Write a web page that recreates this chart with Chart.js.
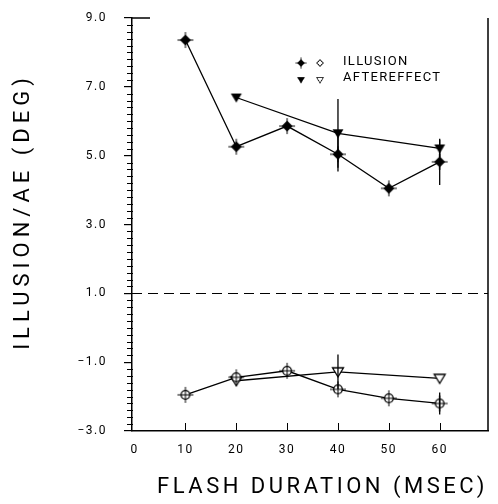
<!DOCTYPE html>
<html>
<head>
<meta charset="utf-8">
<script src="https://cdn.jsdelivr.net/npm/chart.js@4.4.0/dist/chart.umd.min.js"></script>
<style>
  html, body { margin: 0; padding: 0; background: #fff; }
  #wrap { width: 498px; height: 504px; }
</style>
</head>
<body>
<div id="wrap"><canvas id="myChart"></canvas></div>
<script>
// flash duration (msec)
var durations = [10, 20, 30, 40, 50, 60];

// upper group, filled symbols (deg)
var illusionFilled = [8.36, 5.26, 5.86, 5.04, 4.05, 4.82];
var illusionFilledErr = [0, 0, 0, 0.5, 0, 0.67];
var aftereffectFilled = [null, 6.69, null, 5.65, null, 5.21];
var aftereffectFilledErr = [0, 0, 0, 1.0, 0, 0.25];

// lower group, open symbols (deg)
var illusionOpen = [-1.95, -1.44, -1.25, -1.79, -2.05, -2.2];
var illusionOpenErr = [0, 0, 0, 0, 0, 0.32];
var aftereffectOpen = [null, -1.54, null, -1.28, null, -1.47];
var aftereffectOpenErr = [0, 0, 0, 0.5, 0, 0];

var xTicks = [0, 10, 20, 30, 40, 50, 60];
var yTicks = [-3, -1, 1, 3, 5, 7, 9];
var refLine = 1.0;
var legendLabels = ['ILLUSION', 'AFTEREFFECT'];

var FONT = "Roboto, 'DejaVu Sans', sans-serif";

// little canvases used as point symbols
function marker(kind) {
  var c = document.createElement('canvas');
  c.width = 20; c.height = 20;
  var g = c.getContext('2d');
  g.translate(10, 10);
  g.strokeStyle = '#000';
  g.fillStyle = '#000';
  g.lineWidth = 1.3;
  g.beginPath();
  if (kind == 'diamond' || kind == 'diamondOpen') {
    g.moveTo(0, -5.5); g.lineTo(5.5, 0); g.lineTo(0, 5.5); g.lineTo(-5.5, 0); g.closePath();
  } else if (kind == 'circleOpen') {
    g.arc(0, 0, 4.3, 0, Math.PI * 2);
  } else {
    g.moveTo(-5.5, -4); g.lineTo(5.5, -4); g.lineTo(0, 5); g.closePath();
  }
  if (kind == 'diamond' || kind == 'triangle') {
    g.fill();
  } else {
    g.fillStyle = '#fff';
    g.fill();
    g.stroke();
  }
  if (kind == 'diamond' || kind == 'circleOpen') {
    // small cross ticks
    g.beginPath();
    g.lineWidth = 1;
    g.moveTo(0, -8); g.lineTo(0, 8);
    g.moveTo(-8, 0); g.lineTo(8, 0);
    g.stroke();
  }
  return c;
}

var markers = {
  diamond: marker('diamond'),
  diamondOpen: marker('diamondOpen'),
  circleOpen: marker('circleOpen'),
  triangle: marker('triangle'),
  triangleOpen: marker('triangleOpen')
};

function series(label, values, errs, symbol) {
  return {
    label: label,
    data: values.map(function (v, i) { return { x: durations[i], y: v }; }),
    errors: errs,
    borderColor: '#000',
    borderWidth: 1.3,
    pointStyle: symbol,
    pointRadius: 6,
    pointHoverRadius: 6,
    spanGaps: true,
    tension: 0,
    fill: false
  };
}

// axis titles are letter-spaced in the original
function spacedTitle(scale, px, shift) {
  if (scale._spaced) return;
  scale._spaced = true;
  var draw = scale.drawTitle;
  scale.drawTitle = function () {
    var c = this.ctx;
    c.save();
    c.letterSpacing = px;
    c.translate(0, shift || 0);
    draw.apply(this, arguments);
    c.restore();
  };
}

var extras = {
  id: 'extras',
  beforeLayout: function (chart) { chart.ctx.letterSpacing = '1.5px'; },
  beforeDraw: function (chart) { chart.ctx.letterSpacing = '1.5px'; },
  beforeDatasetsDraw: function (chart) {
    var ctx = chart.ctx, a = chart.chartArea, y = chart.scales.y;
    var py = Math.round(y.getPixelForValue(refLine)) + 0.5;
    ctx.save();
    ctx.strokeStyle = '#000';
    ctx.lineWidth = 1;
    ctx.setLineDash([10, 6]);
    ctx.beginPath();
    ctx.moveTo(a.left, py);
    ctx.lineTo(a.right, py);
    ctx.stroke();
    ctx.restore();
  },
  afterDatasetsDraw: function (chart) {
    var ctx = chart.ctx, xs = chart.scales.x, ys = chart.scales.y;
    ctx.save();
    ctx.strokeStyle = '#000';
    ctx.lineWidth = 1.3;
    chart.data.datasets.forEach(function (ds) {
      ds.data.forEach(function (p, i) {
        var e = ds.errors[i];
        if (p.y == null || !e) return;
        var px = xs.getPixelForValue(p.x);
        ctx.beginPath();
        ctx.moveTo(px, ys.getPixelForValue(p.y + e));
        ctx.lineTo(px, ys.getPixelForValue(p.y - e));
        ctx.stroke();
      });
    });
    ctx.restore();
  },
  afterDraw: function (chart) {
    var ctx = chart.ctx, a = chart.chartArea, xs = chart.scales.x, ys = chart.scales.y;
    ctx.save();
    ctx.strokeStyle = '#000';
    ctx.lineWidth = 1;
    ctx.beginPath();
    // minor ticks every 0.2 on the left axis
    for (var k = 0; k <= 60; k++) {
      var v = -3 + k * 0.2;
      if (k % 10 == 0) continue;
      var py = Math.round(ys.getPixelForValue(v)) + 0.5;
      ctx.moveTo(a.left - 5, py);
      ctx.lineTo(a.left + 1, py);
    }
    // inward ticks on the bottom axis
    xTicks.forEach(function (t) {
      if (t == 0) return;
      var px = Math.round(xs.getPixelForValue(t)) + 0.5;
      ctx.moveTo(px, a.bottom);
      ctx.lineTo(px, a.bottom - 8);
    });
    ctx.stroke();
    // right frame and the short stub at the top
    ctx.lineWidth = 1.5;
    ctx.beginPath();
    ctx.moveTo(a.right, a.top);
    ctx.lineTo(a.right, a.bottom);
    ctx.moveTo(a.left, a.top);
    ctx.lineTo(a.left + 18, a.top);
    ctx.stroke();

    // legend
    var lx = a.left + 169, ly = a.top + 45;
    var rows = [
      [markers.diamond, markers.diamondOpen],
      [markers.triangle, markers.triangleOpen]
    ];
    ctx.font = '13px ' + FONT;
    ctx.letterSpacing = '1.3px';
    ctx.fillStyle = '#000';
    ctx.textBaseline = 'middle';
    ctx.textAlign = 'left';
    legendLabels.forEach(function (txt, r) {
      var my = ly + r * 17;
      ctx.drawImage(rows[r][0], lx - 7, my - 7, 14, 14);
      ctx.drawImage(rows[r][1], lx + 19 - 6, my - 6, 12, 12);
      ctx.fillText(txt, lx + 42, ly - 1 + r * 16);
    });
    ctx.restore();
  }
};

var ctx = document.getElementById('myChart').getContext('2d');

var chart = new Chart(ctx, {
  type: 'line',
  data: {
    datasets: [
      series('Illusion', illusionFilled, illusionFilledErr, markers.diamond),
      series('Aftereffect', aftereffectFilled, aftereffectFilledErr, markers.triangle),
      series('Illusion (open)', illusionOpen, illusionOpenErr, markers.circleOpen),
      series('Aftereffect (open)', aftereffectOpen, aftereffectOpenErr, markers.triangleOpen)
    ]
  },
  options: {
    responsive: true,
    maintainAspectRatio: false,
    animation: false,
    layout: { padding: { top: 18, right: 10, left: 0, bottom: 0 } },
    plugins: {
      legend: { display: false },
      tooltip: { enabled: false }
    },
    scales: {
      x: {
        type: 'linear',
        min: -0.5,
        max: 69.5,
        afterBuildTicks: function (s) { s.ticks = xTicks.map(function (v) { return { value: v }; }); },
        afterFit: function (s) { s.height = 73; spacedTitle(s, '3.5px', 0); },
        grid: { display: false },
        border: { display: true, color: '#000', width: 1.5 },
        ticks: {
          color: '#000',
          padding: 4,
          maxRotation: 0,
          font: { family: FONT, size: 12 }
        },
        title: {
          display: true,
          text: 'FLASH DURATION (MSEC)',
          align: 'end',
          color: '#000',
          padding: { top: 0, bottom: 3 },
          font: { family: FONT, size: 22 }
        }
      },
      y: {
        min: -3,
        max: 9,
        afterBuildTicks: function (s) { s.ticks = yTicks.map(function (v) { return { value: v }; }); },
        afterFit: function (s) {
          s.width = 132;
          s.paddingTop = 0;
          s.paddingBottom = 0;
          spacedTitle(s, '5px', -13);
        },
        grid: {
          display: true,
          drawOnChartArea: false,
          drawTicks: true,
          tickLength: 8,
          color: '#000',
          lineWidth: 1.2
        },
        border: { display: true, color: '#000', width: 1.5 },
        ticks: {
          color: '#000',
          padding: 17,
          font: { family: FONT, size: 12 },
          callback: function (v) { return (v < 0 ? '\u2212' : '') + Math.abs(v).toFixed(1); }
        },
        title: {
          display: true,
          text: 'ILLUSION/AE (DEG)',
          color: '#000',
          padding: { top: 10, bottom: 0 },
          font: { family: FONT, size: 22 }
        }
      }
    }
  },
  plugins: [extras]
});
</script>
</body>
</html>
